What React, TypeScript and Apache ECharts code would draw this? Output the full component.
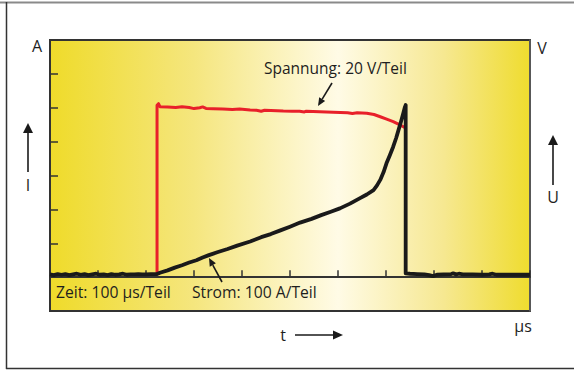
import React, { useEffect, useRef } from "react";
import * as echarts from "echarts";

// Time axis (µs), 100 µs per division
const timeTicks = [0, 100, 200, 300, 400, 500, 600, 700, 800, 900, 1000];

// Current trace (Strom) [µs, A] — 100 A per division
const currentTrace: [number, number][] = [
  [0, 8], [8, 6], [16, 9], [24, 7], [32, 9], [40, 6], [48, 8], [56, 10], [64, 7], [72, 9],
  [80, 6], [88, 8], [96, 10], [104, 7], [112, 8], [120, 6], [128, 9], [136, 7], [144, 8],
  [152, 10], [160, 7], [168, 8], [176, 8], [184, 9], [192, 8], [200, 8], [210, 9], [223, 9],
  [229, 13], [245, 20], [260, 28], [275, 35], [290, 43], [305, 50], [318, 58], [331, 65],
  [350, 74], [370, 83], [390, 93], [417, 105], [440, 118], [460, 127], [480, 138], [500, 149],
  [521, 161], [545, 172], [565, 183], [585, 193], [604, 203], [625, 217], [646, 233],
  [660, 244], [674, 257], [681, 270], [688, 287], [695, 310], [701, 336], [708, 360],
  [715, 385], [721, 410], [726, 434], [731, 458], [736, 484], [739, 500], [741, 508],
  [741, 11], [750, 10], [765, 9], [780, 8], [790, 6], [798, 3], [806, 7], [820, 8],
  [836, 9], [840, 11], [846, 8], [852, 10], [860, 8], [880, 8], [900, 7], [915, 8],
  [922, 10], [930, 7], [950, 7], [975, 7], [1000, 7]
];

// Voltage trace (Spannung) [µs, V] — 20 V per division
const voltageTrace: [number, number][] = [
  [223, 2], [223, 101.5], [226, 102.4], [229, 100.6], [245, 100.4], [262, 100.2], [275, 100.6],
  [290, 100.1], [300, 99.5], [312, 100.0], [318, 100.5], [325, 99.6], [340, 99.4], [360, 99.2],
  [380, 98.9], [395, 99.2], [417, 98.7], [430, 98.5], [440, 97.9], [447, 98.5], [460, 98.4],
  [486, 98.1], [505, 98.0], [520, 97.9], [530, 97.5], [534, 98.0], [562, 97.7], [590, 97.4],
  [620, 97.1], [630, 96.6], [640, 97.0], [660, 96.7], [675, 96.0], [688, 94.7], [700, 93.4],
  [715, 91.8], [728, 90.0], [740, 88.2]
];

const FONT = "'Open Sans', 'Noto Sans', sans-serif";

function arrowHead(tip: [number, number], tail: [number, number], len = 7, half = 3.5) {
  const dx = tip[0] - tail[0];
  const dy = tip[1] - tail[1];
  const l = Math.hypot(dx, dy);
  const ux = dx / l, uy = dy / l;
  const bx = tip[0] - ux * len, by = tip[1] - uy * len;
  const px = -uy, py = ux;
  return {
    base: [bx, by] as [number, number],
    points: [tip, [bx + px * half, by + py * half], [bx - px * half, by - py * half]],
  };
}

function arrow(tail: [number, number], tip: [number, number], len: number, half: number, lw: number, color = "#1a1a1a") {
  const h = arrowHead(tip, tail, len, half);
  return [
    { type: "line", shape: { x1: tail[0], y1: tail[1], x2: h.base[0], y2: h.base[1] }, style: { stroke: color, lineWidth: lw }, z: 100 },
    { type: "polygon", shape: { points: h.points }, style: { fill: color }, z: 100 },
  ];
}

export default function App() {
  const ref = useRef<HTMLDivElement>(null);
  useEffect(() => {
    if (!ref.current) return;
    const chart = echarts.init(ref.current, null, { renderer: "svg" });
    const text = (t: string, x: number, y: number, size: number, align = "left", weight = "normal") => ({
      type: "text",
      x, y, z: 100,
      style: { text: t, fill: "#1e1e1e", font: `${weight} ${size}px ${FONT}`, textAlign: align, textVerticalAlign: "middle" },
    });
    chart.setOption({
      animation: false,
      backgroundColor: "#ffffff",
      grid: {
        left: 50, top: 40, width: 480, height: 271,
        show: true,
        borderColor: "#333333",
        borderWidth: 2,
        backgroundColor: {
          type: "linear", x: 0, y: 0, x2: 1, y2: 0,
          colorStops: [
            { offset: 0, color: "#efdb2a" },
            { offset: 0.3, color: "#f5e67e" },
            { offset: 0.6, color: "#fffbe6" },
            { offset: 0.82, color: "#f6e891" },
            { offset: 1, color: "#efdc2e" },
          ],
        },
      },
      xAxis: {
        type: "value", min: timeTicks[0], max: timeTicks[timeTicks.length - 1], interval: 100,
        axisLine: { show: true, lineStyle: { color: "#333", width: 2 } },
        axisTick: { show: true, inside: true, length: 7, lineStyle: { color: "#333", width: 1.5 } },
        axisLabel: { show: false },
        splitLine: { show: false },
      },
      yAxis: [
        {
          type: "value", min: -100, max: 700, interval: 100, position: "left",
          axisLine: { show: true, lineStyle: { color: "#333", width: 2 } },
          axisTick: { show: true, inside: true, length: 8, lineStyle: { color: "#333", width: 1.5 } },
          axisLabel: { show: false },
          splitLine: { show: false },
        },
        {
          type: "value", min: -20, max: 140, interval: 20, position: "right",
          axisLine: { show: true, lineStyle: { color: "#666", width: 1.5 } },
          axisTick: { show: false },
          axisLabel: { show: false },
          splitLine: { show: false },
        },
      ],
      series: [
        {
          type: "line", name: "Spannung", yAxisIndex: 1, data: voltageTrace,
          showSymbol: false, symbol: "none",
          lineStyle: { color: "#e8202a", width: 3, join: "round" }, z: 3,
        },
        {
          type: "line", name: "Strom", yAxisIndex: 0, data: currentTrace,
          showSymbol: false, symbol: "none",
          lineStyle: { color: "#1a1a1a", width: 3.8, join: "round" }, z: 4,
        },
      ],
      graphic: [
        // frame
        { type: "line", shape: { x1: 0, y1: 2.5, x2: 574, y2: 2.5 }, style: { stroke: "#8a8a8a", lineWidth: 2 } },
        { type: "line", shape: { x1: 6.5, y1: 2, x2: 6.5, y2: 369 }, style: { stroke: "#333", lineWidth: 1.5 } },
        { type: "line", shape: { x1: 6, y1: 368.5, x2: 574, y2: 368.5 }, style: { stroke: "#333", lineWidth: 1.5 } },
        // axis units
        text("A", 37, 46, 16, "center"),
        text("V", 542, 48, 16, "center"),
        ...arrow([28, 172], [28, 123], 10, 5, 1.6),
        text("I", 28, 185, 16, "center"),
        ...arrow([553, 185], [553, 135], 10, 5, 1.6),
        text("U", 553, 197, 16, "center"),
        text("t", 283, 335, 16, "center"),
        ...arrow([295, 335], [343, 335], 10, 4.5, 1.6),
        text("µs", 523, 326, 16, "center"),
        // annotations
        text("Spannung: 20 V/Teil", 264, 68, 15.5),
        ...arrow([332, 83], [318, 106], 8, 3.5, 1.6),
        text("Zeit: 100 µs/Teil", 56, 292, 15.7),
        text("Strom: 100 A/Teil", 192, 292, 15.7),
        ...arrow([222, 282], [209, 258], 8, 3.5, 1.6),
      ],
    });
    return () => chart.dispose();
  }, []);
  return <div ref={ref} style={{ position: "fixed", left: 0, top: 0, width: 574, height: 371 }} />;
}
